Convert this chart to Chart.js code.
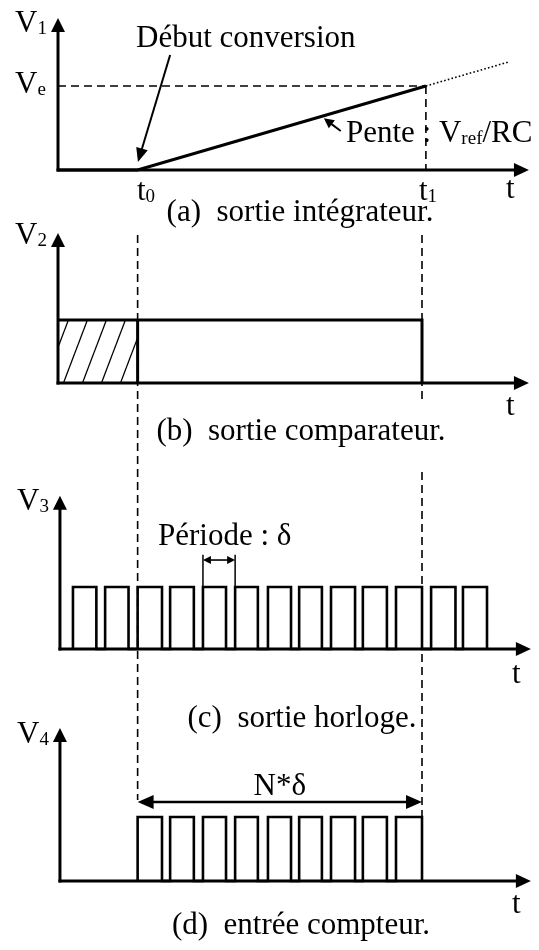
<!DOCTYPE html>
<html>
<head>
<meta charset="utf-8">
<script src="https://cdn.jsdelivr.net/npm/chart.js@4.4.1/dist/chart.umd.min.js"></script>
<style>
    html, body { margin: 0; padding: 0; background: #fff; }
    #wrap { position: relative; width: 539px; height: 950px; }
</style>
</head>
<body>
<div id="wrap"><canvas id="chrono" width="539" height="950"></canvas></div>
<script>
// temps en périodes d'horloge (δ), tensions normalisées (Ve = 1, niveau haut = 1)
const t0 = 2.45;        // début conversion
const t1 = 11.2;        // fin de comptage, lue sur (b), (c), (d)
const t1Ramp = 11.32;   // fin de rampe, lue sur (a)
const rampTimes = [0, t0, t1Ramp];
const rampValues = [0, 0, 1];
const extTimes = [t1Ramp, 13.9];
const extValues = [1, 1.29];
const veLevel = 1;
const compTimes = [0, t1];
const compHigh = 1;
const clockRise = [0.46, 1.45, 2.45, 3.45, 4.46, 5.45, 6.46, 7.42, 8.4, 9.38, 10.4, 11.48, 12.46];
const clockFall = [1.18, 2.17, 3.2, 4.18, 5.17, 6.15, 7.17, 8.12, 9.14, 10.12, 11.2, 12.23, 13.2];
const periodPulse = 4;  // impulsion où la période est cotée

// mise en page
const W = 539, H = 950;
const X0 = 58, PX_PER_T = 32.5;
const bands = {
    ya: { zero: 170, unit: 84 },
    yb: { zero: 383, unit: 63 },
    yc: { zero: 649, unit: 62 },
    yd: { zero: 881, unit: 64 }
};
const axes = [
    { y: 'ya', x0: 0, top: 1.81, end: 14.49 },
    { y: 'yb', x0: 0, top: 2.38, end: 14.49 },
    { y: 'yc', x0: 0.06, top: 2.47, end: 14.55 },
    { y: 'yd', x0: 0.06, top: 2.39, end: 14.55 }
];
const FONT = '"Liberation Serif", "Times New Roman", serif';

function bandScale(b) {
    return { type: 'linear', axis: 'y', display: false, min: -(H - b.zero) / b.unit, max: b.zero / b.unit };
}

function seg(points, yAxisID, style) {
    return Object.assign({
        data: points, yAxisID: yAxisID, xAxisID: 'x',
        borderColor: '#000', borderWidth: 3, pointRadius: 0,
        fill: false, tension: 0, clip: false, borderJoinStyle: 'miter'
    }, style);
}

function pulseTrain(rises, falls) {
    const pts = [];
    rises.forEach((r, i) => {
        pts.push({ x: r, y: 0 }, { x: r, y: 1 }, { x: falls[i], y: 1 }, { x: falls[i], y: 0 });
    });
    return pts;
}

const counterRise = clockRise.filter((r, i) => r >= t0 && clockFall[i] <= t1);
const counterFall = clockFall.filter((f, i) => clockRise[i] >= t0 && f <= t1);

const canvas = document.getElementById('chrono');
const ctx = canvas.getContext('2d');

// hachures de la zone avant t0
const tile = document.createElement('canvas');
tile.width = 19; tile.height = 50;
const tg = tile.getContext('2d');
tg.strokeStyle = '#000';
tg.lineWidth = 1.3;
[-19, 0, 19].forEach(dx => {
    tg.beginPath(); tg.moveTo(dx, 50); tg.lineTo(dx + 19, 0); tg.stroke();
});
const hatch = ctx.createPattern(tile, 'repeat');

const dashed = { borderWidth: 1.6, borderDash: [8, 5] };

const datasets = [
    seg([{ x: 0, y: compHigh }, { x: t0, y: compHigh }], 'yb',
        { fill: 'origin', backgroundColor: hatch, borderColor: 'rgba(0,0,0,0)', borderWidth: 1 }),
    seg([{ x: 0, y: veLevel }, { x: t1Ramp, y: veLevel }], 'ya', dashed),
    seg([{ x: t1Ramp, y: veLevel }, { x: t1Ramp, y: 0 }], 'ya', dashed),
    seg([{ x: t0, y: 235 }, { x: t0, y: 800 }], 'page', dashed),
    seg([{ x: t1, y: 235 }, { x: t1, y: 403 }], 'page', dashed),
    seg([{ x: t1, y: 472 }, { x: t1, y: 817 }], 'page', dashed),
    seg(extTimes.map((t, i) => ({ x: t, y: extValues[i] })), 'ya', { borderWidth: 1.6, borderDash: [1.6, 2.2] }),
    seg(rampTimes.map((t, i) => ({ x: t, y: rampValues[i] })), 'ya', { borderWidth: 3.2 }),
    seg([{ x: compTimes[0], y: compHigh }, { x: compTimes[1], y: compHigh }, { x: compTimes[1], y: 0 }], 'yb', { borderWidth: 3 }),
    seg([{ x: t0, y: 0 }, { x: t0, y: compHigh }], 'yb', { borderWidth: 3 }),
    seg(pulseTrain(clockRise, clockFall), 'yc', { borderWidth: 2.6 }),
    seg([{ x: clockRise[periodPulse], y: 1 }, { x: clockRise[periodPulse], y: 1.52 }], 'yc', { borderWidth: 1.5 }),
    seg([{ x: clockRise[periodPulse + 1], y: 1 }, { x: clockRise[periodPulse + 1], y: 1.52 }], 'yc', { borderWidth: 1.5 }),
    seg(pulseTrain(counterRise, counterFall), 'yd', { borderWidth: 2.6 })
];

function head(c, x, y, a, len, half) {
    const ca = Math.cos(a), sa = Math.sin(a);
    c.beginPath();
    c.moveTo(x, y);
    c.lineTo(x - len * ca + half * sa, y - len * sa - half * ca);
    c.lineTo(x - len * ca - half * sa, y - len * sa + half * ca);
    c.closePath();
    c.fill();
}

function arrow(c, x1, y1, x2, y2, lw, len, half, both) {
    const a = Math.atan2(y2 - y1, x2 - x1);
    const k = len * 0.8;
    c.lineWidth = lw;
    c.beginPath();
    c.moveTo(both ? x1 + k * Math.cos(a) : x1, both ? y1 + k * Math.sin(a) : y1);
    c.lineTo(x2 - k * Math.cos(a), y2 - k * Math.sin(a));
    c.stroke();
    head(c, x2, y2, a, len, half);
    if (both) head(c, x1, y1, a + Math.PI, len, half);
}

function rich(c, x, y, parts, align) {
    let w = 0;
    parts.forEach(([s, sub]) => {
        c.font = (sub ? '19px ' : '31px ') + FONT;
        w += c.measureText(s).width;
    });
    let cx = align === 'center' ? x - w / 2 : x;
    c.textAlign = 'left';
    c.textBaseline = 'alphabetic';
    parts.forEach(([s, sub]) => {
        c.font = (sub ? '19px ' : '31px ') + FONT;
        c.fillText(s, cx, y + (sub ? 2 : 0));
        cx += c.measureText(s).width;
    });
}

const schematic = {
    id: 'schematic',
    afterDatasetsDraw(chart) {
        const c = chart.ctx;
        const sc = chart.scales;
        const px = t => sc.x.getPixelForValue(t);
        const py = (id, v) => sc[id].getPixelForValue(v);
        c.save();
        c.fillStyle = '#000';
        c.strokeStyle = '#000';
        c.lineCap = 'butt';

        axes.forEach(a => {
            const ox = px(a.x0), oy = py(a.y, 0);
            arrow(c, ox, oy + 1.5, ox, py(a.y, a.top), 3, 14, 7, false);
            arrow(c, ox - 1.5, oy, px(a.end), oy, 3, 15, 7, false);
        });

        // début conversion, pente
        arrow(c, px(3.45), py('ya', 1.37), px(2.46), py('ya', 0.095), 2, 14, 6, false);
        arrow(c, px(8.7), py('ya', 0.464), px(8.18), py('ya', 0.615), 2, 10, 5, false);
        // période δ
        const yp = py('yc', 1.435);
        arrow(c, px(clockRise[periodPulse]), yp, px(clockRise[periodPulse + 1]), yp, 1.6, 8, 4, true);
        // N*δ
        const yn = py('yd', 1.234);
        arrow(c, px(t0), yn, px(t1), yn, 2.4, 16, 7, true);

        const labels = [
            { x: 15, y: 32, p: [['V'], ['1', 1]] },
            { x: 15, y: 93, p: [['V'], ['e', 1]] },
            { x: 136, y: 47, p: [['Début conversion']] },
            { x: 346, y: 142, p: [['Pente : V'], ['ref', 1], ['/RC']] },
            { x: 137, y: 200, p: [['t'], ['0', 1]] },
            { x: 419, y: 200, p: [['t'], ['1', 1]] },
            { x: 506, y: 198, p: [['t']] },
            { x: 300, y: 221, p: [['(a)  sortie intégrateur.']], align: 'center' },
            { x: 15, y: 244, p: [['V'], ['2', 1]] },
            { x: 506, y: 415, p: [['t']] },
            { x: 301, y: 440, p: [['(b)  sortie comparateur.']], align: 'center' },
            { x: 17, y: 510, p: [['V'], ['3', 1]] },
            { x: 158, y: 545, p: [['Période : δ']] },
            { x: 512, y: 683, p: [['t']] },
            { x: 302, y: 727, p: [['(c)  sortie horloge.']], align: 'center' },
            { x: 17, y: 743, p: [['V'], ['4', 1]] },
            { x: px((t0 + t1) / 2), y: 795, p: [['N*δ']], align: 'center' },
            { x: 512, y: 913, p: [['t']] },
            { x: 301, y: 934, p: [['(d)  entrée compteur.']], align: 'center' }
        ];
        labels.forEach(l => rich(c, l.x, l.y, l.p, l.align));
        c.restore();
    }
};

new Chart(ctx, {
    type: 'line',
    data: { datasets: datasets },
    options: {
        responsive: false,
        animation: false,
        events: [],
        layout: { padding: { left: X0, right: 0, top: 0, bottom: 0 } },
        scales: {
            x: { type: 'linear', display: false, min: 0, max: (W - X0) / PX_PER_T },
            ya: bandScale(bands.ya),
            yb: bandScale(bands.yb),
            yc: bandScale(bands.yc),
            yd: bandScale(bands.yd),
            page: { type: 'linear', axis: 'y', display: false, min: 0, max: H, reverse: true }
        },
        plugins: {
            legend: { display: false },
            tooltip: { enabled: false }
        }
    },
    plugins: [schematic]
});
</script>
</body>
</html>
